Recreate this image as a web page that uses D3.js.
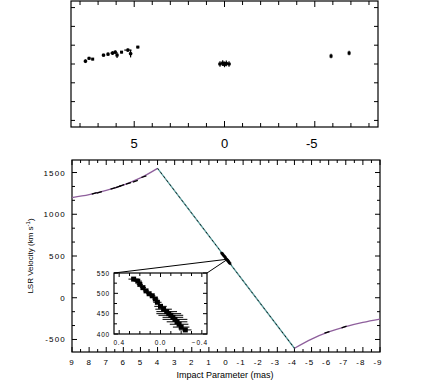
<!DOCTYPE html>
<html>
<head>
<meta charset="utf-8">
<script src="https://cdn.jsdelivr.net/npm/d3@7"></script>
<style>
  body { margin: 0; background: #fff; }
  svg { display: block; font-family: "Liberation Sans", Arial, sans-serif; }
</style>
</head>
<body>
<svg id="chart" width="436" height="388"></svg>
<script>
// ---- data ----
// top panel: sky positions of the masers (x = impact parameter, y = offset)
var topX    = [7.7, 7.5, 7.3, 6.7, 6.45, 6.2, 6.05, 5.95, 5.7, 5.35, 5.2, 4.8, 0.25, 0.1, 0.0, -0.1, -0.25, -5.9, -6.9];
var topY    = [0.15, 0.3, 0.26, 0.47, 0.52, 0.58, 0.63, 0.47, 0.63, 0.74, 0.55, 0.9, 0.0, 0.05, -0.02, 0.03, 0.0, 0.42, 0.58];
var topXErr = [0.1, 0.08, 0.05, 0.1, 0.08, 0.12, 0.1, 0.08, 0.06, 0.2, 0.1, 0.08, 0.1, 0.1, 0.1, 0.1, 0.1, 0.05, 0.05];
var topYErr = [0.1, 0.08, 0.06, 0.08, 0.1, 0.1, 0.1, 0.15, 0.06, 0.1, 0.2, 0.06, 0.15, 0.15, 0.15, 0.15, 0.15, 0.12, 0.12];

// bottom panel: rotation-curve model (read at whole mas)
var redCurveX  = [9, 8, 7, 6, 5, 4];
var redCurveV  = [1200, 1235, 1285, 1350, 1435, 1550];
var midLineX   = [4, -4];
var midLineV   = [1550, -605];
var blueCurveX = [-4, -5, -6, -7, -8, -9];
var blueCurveV = [-605, -495, -410, -345, -295, -255];

// high-velocity features on the curve
var hvX = [7.7, 7.4, 6.6, 6.3, 6.1, 5.7, 5.3, 4.8, -5.9, -6.9];
var hvV = [1250, 1262, 1310, 1330, 1345, 1370, 1395, 1450, -415, -350];

// systemic features (inset)
var sysX    = [0.26, 0.22, 0.2, 0.17, 0.14, 0.11, 0.08, 0.05, 0.03, 0.0, -0.03, -0.06, -0.08, -0.1, -0.12, -0.14, -0.16, -0.18, -0.2, -0.24];
var sysV    = [535, 530, 522, 514, 506, 499, 494, 486, 478, 468, 461, 455, 450, 446, 441, 436, 430, 424, 417, 410];
var sysXErr = [0.05, 0.04, 0.03, 0.03, 0.03, 0.03, 0.03, 0.03, 0.04, 0.06, 0.08, 0.1, 0.12, 0.12, 0.1, 0.12, 0.1, 0.09, 0.08, 0.06];

var zoomCenter = [-0.1, 462];

var topXTicks   = d3.range(-8, 9, 1);
var topYTicks   = d3.range(-3, 4, 1);
var botXTicks   = d3.range(-9, 10, 1);
var botYTicks   = [-500, 0, 500, 1000, 1500];
var insetXTicks = [0.4, 0.0, -0.4];
var insetYTicks = [400, 450, 500, 550];

var svg = d3.select("#chart");
svg.append("rect").attr("width", 436).attr("height", 388).attr("fill", "#fff");

// ---------- helper: framed box with inward ticks ----------
function frame(g, x, y, xTicks, xMinor, yTicks, yMinor, majLen, minLen, isMajorX) {
	var x0 = x.range()[0], x1 = x.range()[1], y0 = y.range()[0], y1 = y.range()[1];
	g.append("rect")
		.attr("x", Math.min(x0, x1)).attr("y", Math.min(y0, y1))
		.attr("width", Math.abs(x1 - x0)).attr("height", Math.abs(y1 - y0))
		.attr("fill", "none").attr("stroke", "#000").attr("stroke-width", 1.2);
	var tk = g.append("g").attr("stroke", "#000").attr("stroke-width", 1);
	xMinor.forEach(function (t) {
		var len = isMajorX(t) ? majLen : minLen;
		tk.append("line").attr("x1", x(t)).attr("x2", x(t)).attr("y1", y0).attr("y2", y0 - len);
		tk.append("line").attr("x1", x(t)).attr("x2", x(t)).attr("y1", y1).attr("y2", y1 + len);
	});
	yMinor.forEach(function (t) {
		var len = yTicks.indexOf(t) >= 0 ? majLen : minLen;
		tk.append("line").attr("x1", x0).attr("x2", x0 + len).attr("y1", y(t)).attr("y2", y(t));
		tk.append("line").attr("x1", x1).attr("x2", x1 - len).attr("y1", y(t)).attr("y2", y(t));
	});
}

// ================= TOP PANEL =================
var xTop = d3.scaleLinear().domain([8.5, -8.5]).range([71, 378]);
var yTop = d3.scaleLinear().domain([-3.35, 3.35]).range([127, 1]);
var gTop = svg.append("g");

frame(gTop, xTop, yTop, [5, 0, -5], topXTicks, [], topYTicks, 6, 4,
	function (t) { return t % 5 === 0; });

gTop.append("g")
	.selectAll("text")
	.data([5, 0, -5])
	.join("text")
	.attr("x", function (d) { return xTop(d) + (d < 0 ? -3 : 0); })
	.attr("y", 148)
	.attr("text-anchor", "middle")
	.attr("font-size", 13)
	.text(function (d) { return d < 0 ? "-" + Math.abs(d) : d; });

var pts = gTop.append("g").attr("stroke", "#000").attr("stroke-width", 1.2);
topX.forEach(function (d, i) {
	pts.append("line")
		.attr("x1", xTop(d + topXErr[i])).attr("x2", xTop(d - topXErr[i]))
		.attr("y1", yTop(topY[i])).attr("y2", yTop(topY[i]));
	pts.append("line")
		.attr("x1", xTop(d)).attr("x2", xTop(d))
		.attr("y1", yTop(topY[i] - topYErr[i])).attr("y2", yTop(topY[i] + topYErr[i]));
	pts.append("rect")
		.attr("x", xTop(d) - 1.5).attr("y", yTop(topY[i]) - 1.5)
		.attr("width", 3).attr("height", 3).attr("fill", "#000").attr("stroke", "none");
});

// ================= BOTTOM PANEL =================
var xBot = d3.scaleLinear().domain([9, -9]).range([72, 380]);
var yBot = d3.scaleLinear().domain([-650, 1650]).range([352, 160]);
var gBot = svg.append("g");

frame(gBot, xBot, yBot, botXTicks, d3.range(-9, 9.01, 0.5), botYTicks,
	d3.range(-500, 1501, 500 / 3).map(function (v) { return Math.round(v); }), 5, 3,
	function (t) { return Number.isInteger(t); });

gBot.append("g")
	.selectAll("text")
	.data(botXTicks)
	.join("text")
	.attr("x", function (d) { return xBot(d) - (d < 0 ? 2 : 0); })
	.attr("y", 365)
	.attr("text-anchor", "middle")
	.attr("font-size", 8)
	.attr("letter-spacing", 1)
	.text(function (d) { return d < 0 ? "-" + Math.abs(d) : d; });

gBot.append("g")
	.selectAll("text")
	.data(botYTicks)
	.join("text")
	.attr("x", 66)
	.attr("y", function (d) { return yBot(d) + 3; })
	.attr("text-anchor", "end")
	.attr("font-size", 8)
	.attr("letter-spacing", 1.2)
	.text(function (d) { return d < 0 ? "-" + Math.abs(d) : d; });

gBot.append("text")
	.attr("transform", "translate(33,256) rotate(-90)")
	.attr("text-anchor", "middle")
	.attr("font-size", 8)
	.text("LSR Velocity (km s")
	.append("tspan").attr("dy", -3).attr("font-size", 6).text("-1")
	.select(function () { return this.parentNode; })
	.append("tspan").attr("dy", 3).text(")");

gBot.append("text")
	.attr("x", 225).attr("y", 378)
	.attr("text-anchor", "middle")
	.attr("font-size", 9)
	.text("Impact Parameter (mas)");

var line = d3.line()
	.x(function (d) { return xBot(d[0]); })
	.y(function (d) { return yBot(d[1]); })
	.curve(d3.curveMonotoneX);

var purple = "#8e5f9c";
gBot.append("path")
	.attr("d", line(d3.zip(redCurveX, redCurveV)))
	.attr("fill", "none").attr("stroke", purple).attr("stroke-width", 1.3);
gBot.append("path")
	.attr("d", line(d3.zip(blueCurveX, blueCurveV)))
	.attr("fill", "none").attr("stroke", purple).attr("stroke-width", 1.3);
gBot.append("path")
	.attr("d", d3.line().x(function (d) { return xBot(d[0]); }).y(function (d) { return yBot(d[1]); })(d3.zip(midLineX, midLineV)))
	.attr("fill", "none").attr("stroke", "#5a9c9c").attr("stroke-width", 1.3);
gBot.append("path")
	.attr("d", d3.line().x(function (d) { return xBot(d[0]); }).y(function (d) { return yBot(d[1]); })(d3.zip(midLineX, midLineV)))
	.attr("fill", "none").attr("stroke", "#000").attr("stroke-width", 0.8).attr("stroke-dasharray", "2,3");

var hv = gBot.append("g").attr("stroke", "#000").attr("stroke-width", 1.3);
hvX.forEach(function (d, i) {
	hv.append("line")
		.attr("x1", xBot(d) - 2.5).attr("x2", xBot(d) + 2.5)
		.attr("y1", yBot(hvV[i]) + 0.8).attr("y2", yBot(hvV[i]) - 0.8);
});
sysX.forEach(function (d, i) {
	hv.append("rect")
		.attr("x", xBot(d) - 1.2).attr("y", yBot(sysV[i]) - 1.2)
		.attr("width", 2.4).attr("height", 2.4).attr("fill", "#000").attr("stroke", "none");
});

// ================= INSET =================
var xIn = d3.scaleLinear().domain([0.45, -0.45]).range([114, 207]);
var yIn = d3.scaleLinear().domain([400, 550]).range([334, 273]);
var gIn = svg.append("g");

gIn.append("rect").attr("x", 114).attr("y", 273).attr("width", 93).attr("height", 61).attr("fill", "#fff");

// connector lines to the systemic features
gIn.append("g").attr("stroke", "#000").attr("stroke-width", 1)
	.selectAll("line")
	.data([[xIn.range()[0], yIn.range()[1]], [xIn.range()[1], yIn.range()[1]]])
	.join("line")
	.attr("x1", function (d) { return d[0]; }).attr("y1", function (d) { return d[1]; })
	.attr("x2", xBot(zoomCenter[0])).attr("y2", yBot(zoomCenter[1]));

frame(gIn, xIn, yIn, insetXTicks, d3.range(-0.4, 0.41, 0.1).map(function (v) { return Math.round(v * 10) / 10; }),
	insetYTicks, d3.range(400, 551, 25), 4, 3,
	function (t) { return Math.abs(Math.round(t * 10) % 4) === 0; });

gIn.append("g")
	.selectAll("text")
	.data(insetXTicks)
	.join("text")
	.attr("x", function (d) { return xIn(d) - (d < 0 ? 2 : 0); })
	.attr("y", 345)
	.attr("text-anchor", "middle")
	.attr("font-size", 6.5)
	.attr("letter-spacing", 0.8)
	.text(function (d) { return d3.format(".1f")(d); });

gIn.append("g")
	.selectAll("text")
	.data(insetYTicks)
	.join("text")
	.attr("x", 110)
	.attr("y", function (d) { return yIn(d) + 2.5; })
	.attr("text-anchor", "end")
	.attr("font-size", 6.5)
	.attr("letter-spacing", 0.8)
	.text(function (d) { return d; });

var ip = gIn.append("g").attr("stroke", "#000").attr("stroke-width", 1);
sysX.forEach(function (d, i) {
	ip.append("line")
		.attr("x1", xIn(d + sysXErr[i])).attr("x2", xIn(d - sysXErr[i]))
		.attr("y1", yIn(sysV[i])).attr("y2", yIn(sysV[i]));
	ip.append("rect")
		.attr("x", xIn(d) - 2.5).attr("y", yIn(sysV[i]) - 2.5)
		.attr("width", 5).attr("height", 5).attr("fill", "#000").attr("stroke", "none");
});
</script>
</body>
</html>
